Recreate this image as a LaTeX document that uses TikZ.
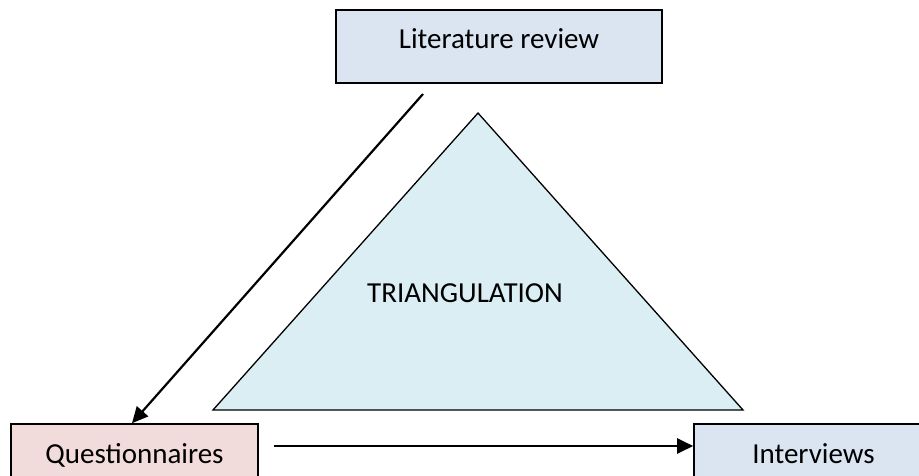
\documentclass[tikz,border=0pt]{standalone}
\usepackage{fontspec}
\setmainfont{Carlito}
\usetikzlibrary{arrows.meta}
\definecolor{boxblue}{HTML}{DBE5F1}
\definecolor{boxpink}{HTML}{F2DCDB}
\definecolor{triblue}{HTML}{DAEEF3}
\tikzset{
  box/.style={draw=black, line width=1.6pt, rectangle, inner sep=0pt,
    text height=38pt, text depth=35pt, font=\fontsize{29}{34}\selectfont},
  arr/.style={line width=2.2pt, -{Triangle[length=16pt,width=15pt]}},
  tri/.style={draw=black, line width=1.3pt, fill=triblue, line join=miter},
}
\begin{document}
\begin{tikzpicture}[x=1pt,y=-1pt]
\useasboundingbox (0,0) rectangle (919,475);
\clip (0,0) rectangle (919,475);
\fill[white] (0,0) rectangle (919,475);
% triangle
\coordinate (apex) at (478,113);
\coordinate (bl) at (213,410);
\coordinate (br) at (743,410);
\draw[tri] (apex) -- (br) -- (bl) -- cycle;
\node[anchor=base, font=\fontsize{29}{34}\selectfont, inner sep=0pt] (tri) at (465,302) {TRIANGULATION};
% boxes
\node[box, fill=boxblue, minimum width=326pt] (lit) at (499,46.5) {Literature review};
\node[box, fill=boxpink, minimum width=247pt, text height=39pt, text depth=34pt] (quest) at (134.5,460.5) {Questionnaires};
\node[box, fill=boxblue, minimum width=239pt, text height=39pt, text depth=34pt] (interv) at (813.5,460.5) {Interviews};
% arrows
\coordinate (a1) at (423,94);
\coordinate (q1) at (132,424);
\draw[arr] (a1) -- (q1 |- quest.north);
\coordinate (a2) at (274,446);
\draw[arr] (a2) -- (a2 -| interv.west);
\end{tikzpicture}
\end{document}
